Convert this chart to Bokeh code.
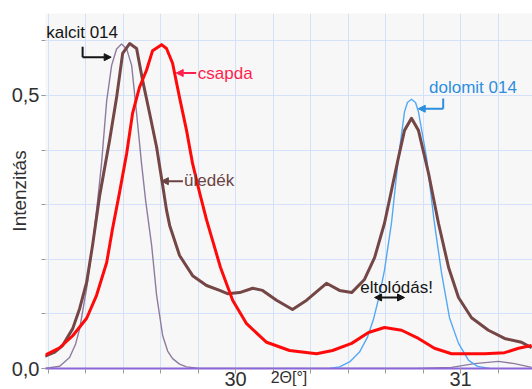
import math
from bokeh.plotting import figure
from bokeh.models import (Range1d, FixedTicker, CustomJSTickFormatter, Label, Arrow,
                          NormalHead)
from bokeh.embed import file_html
from bokeh.resources import INLINE

# ---- data (2Theta in degrees, intensity) ----
kalcit_x = [29.151, 29.218, 29.262, 29.289, 29.307, 29.338, 29.364, 29.387, 29.404, 29.427,
            29.449, 29.471, 29.493, 29.516, 29.538, 29.560, 29.582, 29.600, 29.627, 29.649,
            29.676, 29.698, 29.720, 29.751, 29.782, 29.840, 30.200, 30.800, 30.960, 31.062,
            31.169, 31.240, 31.316]
kalcit_y = [0, 0.004, 0.02, 0.045, 0.073, 0.147, 0.225, 0.308, 0.375, 0.49,
            0.555, 0.585, 0.594, 0.585, 0.555, 0.467, 0.375, 0.308, 0.225, 0.134,
            0.06, 0.032, 0.018, 0.008, 0.003, 0, 0, 0, 0.002, 0.009,
            0.013, 0.009, 0.002]

dolomit_x = [30.418, 30.462, 30.507, 30.551, 30.587, 30.613, 30.640, 30.662, 30.693, 30.724,
             30.751, 30.764, 30.782, 30.800, 30.813, 30.849, 30.884, 30.916, 30.951, 30.991,
             31.036, 31.076, 31.129]
dolomit_y = [0, 0.003, 0.012, 0.03, 0.058, 0.09, 0.135, 0.18, 0.266, 0.386,
             0.47, 0.487, 0.493, 0.487, 0.47, 0.386, 0.266, 0.174, 0.093, 0.046,
             0.015, 0.004, 0]

uledek_x = [29.151, 29.196, 29.231, 29.276, 29.307, 29.338, 29.364, 29.396, 29.440, 29.471,
            29.498, 29.529, 29.560, 29.587, 29.618, 29.649, 29.676, 29.693, 29.707, 29.751,
            29.809, 29.871, 29.929, 29.964, 30.018, 30.076, 30.120, 30.182, 30.253, 30.316,
            30.404, 30.462, 30.516, 30.573, 30.618, 30.662, 30.693, 30.724, 30.751, 30.782,
            30.813, 30.858, 30.902, 30.947, 30.991, 31.049, 31.124, 31.196, 31.271, 31.316]
uledek_y = [0.022, 0.03, 0.042, 0.073, 0.11, 0.158, 0.225, 0.317, 0.418, 0.496,
            0.577, 0.595, 0.586, 0.527, 0.467, 0.405, 0.335, 0.29, 0.262, 0.207,
            0.17, 0.152, 0.143, 0.137, 0.139, 0.147, 0.143, 0.125, 0.108, 0.125,
            0.156, 0.143, 0.139, 0.163, 0.203, 0.266, 0.326, 0.386, 0.436, 0.458,
            0.436, 0.357, 0.266, 0.185, 0.13, 0.093, 0.07, 0.055, 0.048, 0.038]

csapda_x = [29.151, 29.218, 29.276, 29.338, 29.382, 29.427, 29.453, 29.484, 29.516, 29.542,
            29.573, 29.604, 29.631, 29.671, 29.693, 29.720, 29.751, 29.782, 29.809, 29.840,
            29.871, 29.898, 29.933, 29.987, 30.049, 30.138, 30.240, 30.360, 30.431, 30.516,
            30.591, 30.662, 30.738, 30.813, 30.884, 30.960, 31.107, 31.196, 31.258, 31.316]
csapda_y = [0.024, 0.038, 0.06, 0.092, 0.134, 0.194, 0.256, 0.322, 0.394, 0.467,
            0.515, 0.546, 0.582, 0.593, 0.586, 0.559, 0.496, 0.436, 0.375, 0.322,
            0.272, 0.234, 0.185, 0.125, 0.082, 0.048, 0.033, 0.027, 0.033, 0.046,
            0.066, 0.075, 0.07, 0.055, 0.037, 0.027, 0.027, 0.029, 0.037, 0.042]

x_tick_values = [30, 31]
y_tick_values = [0, 0.5]
x_label = "2Θ[°]"
y_label = "Intenzitás"

FONT = "Liberation Sans"
C_KALCIT = "#8e7ba0"
C_DOLOMIT = "#55a8f5"
C_ULEDEK = "#744646"
C_CSAPDA = "#ff0a0a"
C_CSAPDA_TXT = "#ff1f4f"
C_DOLO_TXT = "#2d8ee0"
C_ULE_TXT = "#6a4343"
C_BLACK = "#151515"
C_AXIS_TXT = "#303030"

p = figure(width=532, height=389, x_range=Range1d(29.155, 31.32), y_range=Range1d(0, 0.65),
           output_backend="svg", toolbar_location=None,
           min_border_left=45, min_border_right=0, min_border_top=13, min_border_bottom=21)
p.background_fill_color = "#f7f7f7"
p.border_fill_color = "white"
p.outline_line_color = None

# grid
p.xgrid.ticker = FixedTicker(ticks=[30 + k / 6 for k in range(-5, 8)])
p.ygrid.ticker = FixedTicker(ticks=[k / 10 for k in range(0, 7)])
p.xgrid.grid_line_color = "#d3e1fb"
p.ygrid.grid_line_color = "#d3e1fb"
p.xgrid.grid_line_width = 1
p.ygrid.grid_line_width = 1

# x axis
xa = p.xaxis[0]
xa.ticker = FixedTicker(ticks=x_tick_values, minor_ticks=[30 + k / 6 for k in range(-5, 8)])
xa.axis_line_color = "#8a66d8"
xa.axis_line_width = 2
xa.major_tick_out = 5
xa.major_tick_in = 0
xa.minor_tick_out = 5
xa.minor_tick_in = 0
xa.major_tick_line_color = "#9a9a9a"
xa.minor_tick_line_color = "#9a9a9a"
xa.major_label_standoff = -2
xa.major_label_text_font = FONT
xa.major_label_text_font_size = "20px"
xa.major_label_text_color = C_AXIS_TXT
xa.axis_label = x_label
xa.axis_label_text_font = FONT
xa.axis_label_text_font_size = "16px"
xa.axis_label_text_font_style = "normal"
xa.axis_label_text_color = C_AXIS_TXT
xa.axis_label_standoff = -20

# y axis
ya = p.yaxis[0]
ya.ticker = FixedTicker(ticks=y_tick_values, minor_ticks=[k / 10 for k in range(0, 7)])
ya.formatter = CustomJSTickFormatter(code="return tick.toFixed(1).replace('.', ',');")
ya.axis_line_color = None
ya.major_tick_out = 4
ya.major_tick_in = 0
ya.minor_tick_out = 4
ya.minor_tick_in = 0
ya.major_tick_line_color = "#9a9a9a"
ya.minor_tick_line_color = "#9a9a9a"
ya.major_label_standoff = 2
ya.major_label_text_font = FONT
ya.major_label_text_font_size = "20px"
ya.major_label_text_color = C_AXIS_TXT
ya.axis_label = y_label
ya.axis_label_text_font = FONT
ya.axis_label_text_font_size = "19px"
ya.axis_label_text_font_style = "normal"
ya.axis_label_text_color = C_AXIS_TXT
ya.axis_label_standoff = -21

# curves
p.line(kalcit_x, kalcit_y, line_color=C_KALCIT, line_width=1.4, line_join="round")
p.line(dolomit_x, dolomit_y, line_color=C_DOLOMIT, line_width=1.4, line_join="round")
p.line(uledek_x, uledek_y, line_color=C_ULEDEK, line_width=3, line_join="round")
p.line(csapda_x, csapda_y, line_color=C_CSAPDA, line_width=3, line_join="round")


def txt(x, y, s, color, size="17px"):
    p.add_layout(Label(x=x, y=y, text=s, text_color=color, text_font=FONT,
                       text_font_size=size, text_baseline="middle", text_align="left"))


def arrow(x0, y0, x1, y1, color, both=False):
    head = NormalHead(size=7, fill_color=color, line_color=color)
    start = NormalHead(size=7, fill_color=color, line_color=color) if both else None
    p.add_layout(Arrow(x_start=x0, y_start=y0, x_end=x1, y_end=y1, end=head, start=start,
                       line_color=color, line_width=2))


def seg(x0, y0, x1, y1, color):
    p.segment(x0=[x0], y0=[y0], x1=[x1], y1=[y1], line_color=color, line_width=2)


# annotations
txt(29.158, 0.615, "kalcit 014", C_BLACK)
seg(29.320, 0.589, 29.320, 0.570, C_BLACK)
arrow(29.320, 0.570, 29.447, 0.570, C_BLACK)

txt(29.832, 0.540, "csapda", C_CSAPDA_TXT)
arrow(29.825, 0.541, 29.736, 0.541, C_CSAPDA_TXT)

txt(29.771, 0.344, "üledék", C_ULE_TXT)
arrow(29.766, 0.343, 29.670, 0.343, C_ULE_TXT)

txt(30.860, 0.514, "dolomit 014", C_DOLO_TXT)
seg(30.923, 0.4945, 30.923, 0.4756, C_DOLO_TXT)
arrow(30.923, 0.4756, 30.812, 0.4756, C_DOLO_TXT)

txt(30.554, 0.148, "eltolódás!", C_BLACK)
arrow(30.618, 0.130, 30.751, 0.130, C_BLACK, both=True)

open("out.html", "w").write(file_html(p, INLINE))
